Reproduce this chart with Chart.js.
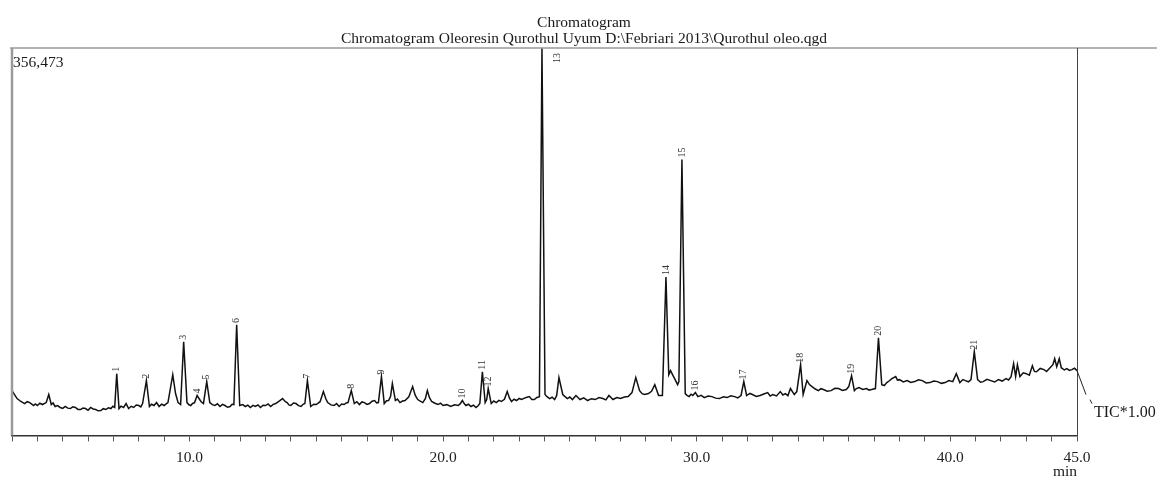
<!DOCTYPE html>
<html><head><meta charset="utf-8">
<script src="https://cdn.jsdelivr.net/npm/chart.js@4"></script>
<style>html,body{margin:0;padding:0;background:#fff}#wrap{width:1157px;height:478px;position:relative}</style>
</head><body><div id="wrap"><canvas id="c"></canvas></div>
<script>
const titleLines = ["Chromatogram", "Chromatogram Oleoresin Qurothul Uyum D:\\Febriari 2013\\Qurothul oleo.qgd"];
const maxIntensityLabel = "356,473";
const traceLabel = "TIC*1.00";
const axisUnit = "min";
const xMin = 3.0, xMax = 45.0, yMax = 356473;
const xTickLabels = [10, 20, 30, 40, 45];

const retentionTimes = [
3.0,3.1,3.2,3.35,3.5,3.6,3.7,3.85,3.92,4.0,
4.1,4.2,4.35,4.45,4.55,4.62,4.7,4.8,4.9,5.0,
5.1,5.2,5.3,5.4,5.5,5.6,5.7,5.8,5.9,6.0,
6.1,6.2,6.3,6.4,6.5,6.6,6.7,6.8,6.9,6.98,
7.05,7.13,7.22,7.3,7.4,7.5,7.6,7.7,7.8,7.9,
8.0,8.08,8.15,8.3,8.42,8.5,8.6,8.7,8.8,8.9,
9.0,9.08,9.15,9.34,9.45,9.55,9.65,9.77,9.9,9.98,
10.05,10.12,10.2,10.3,10.45,10.55,10.68,10.8,10.9,11.0,
11.1,11.2,11.3,11.4,11.5,11.6,11.68,11.75,11.86,11.98,
12.1,12.2,12.3,12.4,12.5,12.6,12.7,12.8,12.9,13.0,
13.1,13.2,13.3,13.4,13.55,13.67,13.78,13.85,13.92,14.0,
14.1,14.2,14.3,14.4,14.48,14.55,14.65,14.78,14.9,15.0,
15.15,15.28,15.38,15.45,15.58,15.7,15.8,15.9,16.0,16.1,
16.18,16.25,16.38,16.5,16.6,16.7,16.8,16.9,17.0,17.1,
17.2,17.3,17.38,17.45,17.57,17.68,17.77,17.85,17.93,18.0,
18.12,18.2,18.3,18.4,18.5,18.65,18.8,18.9,19.0,19.1,
19.2,19.3,19.38,19.46,19.55,19.68,19.8,19.9,20.0,20.15,
20.3,20.45,20.6,20.68,20.76,20.84,20.9,21.0,21.1,21.2,
21.3,21.38,21.45,21.55,21.66,21.72,21.78,21.9,22.0,22.1,
22.2,22.3,22.42,22.53,22.62,22.7,22.8,22.9,23.0,23.1,
23.25,23.4,23.5,23.6,23.7,23.8,23.9,24.02,24.1,24.2,
24.3,24.4,24.48,24.57,24.72,24.8,24.9,25.0,25.1,25.24,
25.4,25.55,25.7,25.85,26.0,26.15,26.3,26.42,26.54,26.7,
26.85,27.0,27.15,27.3,27.45,27.6,27.75,27.85,27.95,28.1,
28.22,28.35,28.5,28.65,28.79,28.9,28.97,29.05,29.15,29.25,
29.3,29.42,29.55,29.62,29.7,29.78,29.85,29.95,30.05,30.18,
30.3,30.45,30.6,30.75,30.9,31.05,31.2,31.35,31.5,31.62,
31.75,31.86,31.97,32.1,32.2,32.35,32.5,32.65,32.8,32.9,
33.0,33.15,33.3,33.4,33.5,33.6,33.7,33.85,33.95,34.1,
34.2,34.35,34.45,34.55,34.68,34.8,34.9,35.0,35.15,35.3,
35.45,35.6,35.75,35.9,36.0,36.11,36.22,36.3,36.4,36.55,
36.7,36.8,36.9,37.05,37.17,37.3,37.4,37.5,37.6,37.7,
37.85,37.92,38.0,38.15,38.3,38.45,38.6,38.75,38.9,39.05,
39.2,39.35,39.5,39.65,39.8,39.95,40.1,40.24,40.38,40.5,
40.6,40.72,40.82,40.95,41.08,41.2,41.3,41.45,41.6,41.75,
41.9,42.05,42.2,42.3,42.4,42.5,42.58,42.65,42.75,42.88,
43.0,43.12,43.24,43.32,43.4,43.55,43.7,43.8,43.9,44.05,
44.12,44.2,44.3,44.38,44.5,44.6,44.7,44.8,44.9,45.0
];
const intensities = [
41200,37600,33900,31200,29300,31000,30200,27500,29000,27500,
29600,28400,30200,37600,28400,29800,26600,27400,25700,24800,
26600,25100,24700,26300,25700,23900,23800,25200,24700,23100,
25700,24300,23800,22600,22900,24600,23800,25400,24700,26800,
25700,56800,24700,26900,25700,29300,24700,26800,25700,28000,
27500,26300,29300,50400,26600,28700,27500,30200,26600,28800,
27500,29000,30200,55900,38500,30200,28400,86100,30200,28200,
27500,29400,30200,36700,31200,29300,49500,30200,28300,27500,
29100,26600,28500,27500,25900,26600,28700,28400,101700,27500,
28400,26600,27900,25700,27600,26600,28100,25700,27800,27500,
29000,26600,28600,29300,31800,33900,31000,30200,28100,27500,
29800,29300,27400,26600,28600,29300,50400,26600,28700,28400,
31000,40300,33500,30200,28100,27500,29300,26600,28900,28400,
29800,30200,41200,29300,31000,28400,30800,30200,28500,29300,
31500,32100,29900,30200,54100,29300,31900,32100,36000,47700,
32100,33400,30200,31600,32100,35500,44900,37000,33000,31500,
30200,33800,41200,35000,31200,29600,28400,29700,27500,28300,
26600,28100,27500,29200,32100,29000,27500,28700,26600,27900,
25700,27300,29300,58600,30200,33000,43100,29300,31600,30200,
32200,31200,33200,40300,34300,31200,33300,32100,34000,33000,
34700,35700,33100,33000,34900,35700,356473,37600,35600,33900,
35100,33000,36800,53200,37600,35900,33900,35300,33000,36700,
33000,34600,32100,33800,33000,34900,33900,32700,36700,33000,
34800,33900,35300,35700,39400,53200,41200,38400,37600,38500,
40600,46700,36700,36700,145700,55900,59600,55900,51300,46700,
49500,253800,38500,36900,35700,37900,36700,39400,35700,36900,
34800,36300,35700,34300,33900,35600,34800,36500,35700,34500,
36700,49500,36700,38600,37600,35900,36700,38100,39400,36200,
37600,36300,40300,37200,38500,36600,43100,37600,40300,65100,
37600,50400,46800,44900,42700,41200,43000,42200,40700,41200,
43300,43100,41300,42200,44900,55000,41200,43100,44000,42300,
43100,41700,42200,43100,89800,46700,45900,48600,50300,52200,
54100,50900,51300,49200,50400,48800,49500,51200,50400,48300,
48600,50100,49500,47900,48600,50500,49500,56800,48600,51400,
50400,49300,51300,77000,51300,48900,49500,51600,50400,49100,
51300,50000,52200,51000,54100,66000,54100,65100,54100,57600,
56800,55400,64100,58900,58600,61600,60500,58800,61400,65100,
70600,63200,70600,62300,60200,61400,59800,60500,61900,59600
];
const peakNumbers = ["1","2","3","4","5","6","7","8","9","10","11","12","13","14","15","16","17","18","19","20","21"];
const peakTimes = [7.13,8.3,9.77,10.3,10.68,11.86,14.65,16.38,17.57,20.76,21.55,21.78,23.9,28.79,29.42,29.95,31.86,34.1,36.11,37.17,40.95];

const SERIF = "'Liberation Serif', 'Times New Roman', serif";

const decor = {
  id: 'decor',
  afterDraw(chart) {
    const ctx = chart.ctx, a = chart.chartArea, xs = chart.scales.x, ys = chart.scales.y;
    ctx.save();
    // frame
    ctx.strokeStyle = '#9a9a9a'; ctx.lineWidth = 1.5;
    ctx.beginPath(); ctx.moveTo(a.left - 2, a.top); ctx.lineTo(chart.width, a.top); ctx.stroke();
    ctx.lineWidth = 2.5;
    ctx.beginPath(); ctx.moveTo(a.left, a.top); ctx.lineTo(a.left, a.bottom); ctx.stroke();
    ctx.strokeStyle = '#444'; ctx.lineWidth = 1;
    ctx.beginPath(); ctx.moveTo(a.right + 0.5, a.top); ctx.lineTo(a.right + 0.5, a.bottom); ctx.stroke();

    // titles
    ctx.fillStyle = '#1a1a1a';
    ctx.font = '15.5px ' + SERIF;
    ctx.textAlign = 'center'; ctx.textBaseline = 'alphabetic';
    ctx.fillText(titleLines[0], 584, 27);
    ctx.fillText(titleLines[1], 584, 43);
    ctx.textAlign = 'left';
    ctx.fillText(maxIntensityLabel, a.left + 1, a.top + 19);

    // tail of trace and trace label
    const lx = xs.getPixelForValue(retentionTimes[retentionTimes.length - 1]);
    const ly = ys.getPixelForValue(intensities[intensities.length - 1]);
    ctx.strokeStyle = '#222'; ctx.lineWidth = 1;
    ctx.beginPath(); ctx.moveTo(lx, ly); ctx.lineTo(lx + 9, ly + 24); ctx.stroke();
    ctx.beginPath(); ctx.moveTo(lx + 13, ly + 29); ctx.lineTo(lx + 15, ly + 33); ctx.stroke();
    ctx.font = '16px ' + SERIF;
    ctx.fillText(traceLabel, lx + 17, ly + 46);
    ctx.font = '15.5px ' + SERIF;
    ctx.textAlign = 'right';
    ctx.fillText(axisUnit, a.right, chart.height - 2);

    // peak labels
    ctx.font = '10px ' + SERIF;
    ctx.fillStyle = '#333';
    peakNumbers.forEach((lab, i) => {
      const idx = retentionTimes.indexOf(peakTimes[i]);
      const px = xs.getPixelForValue(peakTimes[i]);
      const py = ys.getPixelForValue(intensities[idx]);
      ctx.save();
      ctx.textAlign = 'left'; ctx.textBaseline = 'middle';
      if (py - a.top < 20) {
        ctx.translate(px + 15, a.top + 15);
      } else {
        ctx.translate(px, py - 2);
      }
      ctx.rotate(-Math.PI / 2);
      ctx.fillText(lab, 0, 0);
      ctx.restore();
    });
    ctx.restore();
  }
};

new Chart(document.getElementById('c'), {
  type: 'line',
  data: {
    datasets: [{
      data: retentionTimes.map((t, i) => ({ x: t, y: intensities[i] })),
      borderColor: '#111',
      borderWidth: 1.5,
      pointRadius: 0,
      tension: 0,
      fill: false
    }]
  },
  options: {
    responsive: true,
    maintainAspectRatio: false,
    animation: false,
    devicePixelRatio: 1,
    layout: { padding: { left: 12, right: 80, top: 48, bottom: 4 } },
    plugins: { legend: { display: false }, tooltip: { enabled: false }, title: { display: false } },
    scales: {
      x: {
        type: 'linear', min: xMin, max: xMax,
        afterBuildTicks(scale) {
          const t = [];
          for (let v = xMin; v <= xMax; v += 1) t.push({ value: v });
          scale.ticks = t;
        },
        ticks: {
          autoSkip: false, maxRotation: 0, padding: 7,
          color: '#222',
          font: { family: SERIF, size: 15.5 },
          callback: (v) => xTickLabels.includes(v) ? v.toFixed(1) : ''
        },
        grid: { drawOnChartArea: false, drawTicks: true, tickLength: 6, color: '#555', lineWidth: 1 },
        border: { display: true, color: '#333', width: 1.5 }
      },
      y: { display: false, min: 0, max: yMax }
    }
  },
  plugins: [decor]
});
</script>
</body></html>
